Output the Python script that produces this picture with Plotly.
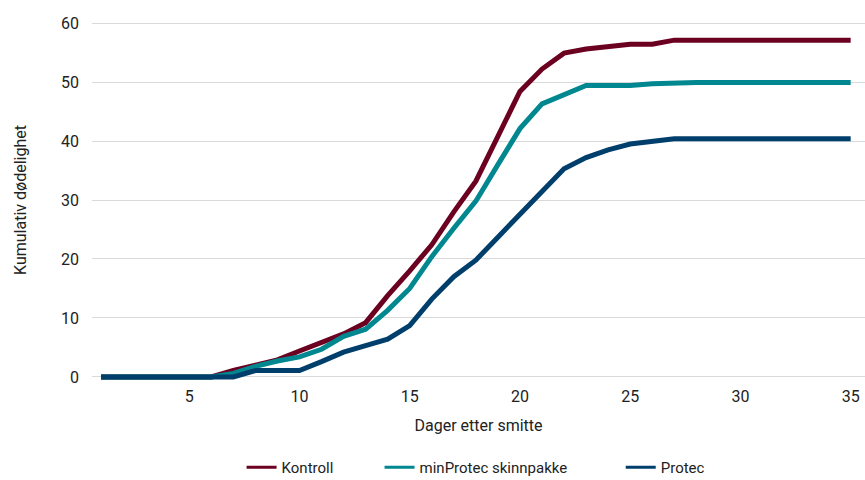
import plotly.graph_objects as go

days = list(range(1, 36))

kontroll = [0, 0, 0, 0, 0, 0, 1.1, 2.0, 2.9, 4.4, 5.9, 7.3, 9.2, 13.8, 18.0,
            22.4, 28.0, 33.2, 40.8, 48.4, 52.2, 54.9, 55.6, 56.1, 56.4, 56.4, 57.1,
            57.1, 57.1, 57.1, 57.1, 57.1, 57.1, 57.1, 57.1]
minprotec = [0, 0, 0, 0, 0, 0, 0.6, 1.8, 2.7, 3.4, 4.7, 6.9, 8.1, 11.3, 15.0,
             20.4, 25.2, 29.8, 36.0, 42.1, 46.3, 47.8, 49.4, 49.4, 49.4, 49.7, 49.9,
             49.9, 49.9, 49.9, 49.9, 49.9, 49.9, 49.9, 49.9]
protec = [0, 0, 0, 0, 0, 0, 0, 1.1, 1.1, 1.1, 2.6, 4.2, 5.3, 6.4, 8.7,
          13.2, 17.0, 19.8, 23.7, 27.5, 31.4, 35.3, 37.2, 38.5, 39.5, 40.0, 40.4,
          40.4, 40.4, 40.4, 40.4, 40.4, 40.4, 40.4, 40.4]

series = [
    ("Kontroll", kontroll, "#6b0021"),
    ("minProtec skinnpakke", minprotec, "#00878f"),
    ("Protec", protec, "#003f6b"),
]

FONT = "Roboto, sans-serif"
TXT = "#222222"

# left edge of each legend entry, in paper fraction of the plot width
legend_x = [0.1935, 0.372, 0.684]
legend_names = ["legend", "legend2", "legend3"]

fig = go.Figure()
for name, vals, color in series:
    fig.add_trace(go.Scatter(x=days, y=vals, mode="lines", name=name,
                             line=dict(color=color, width=5),
                             showlegend=False, hoverinfo="x+y+name"))
for (name, vals, color), lg in zip(series, legend_names):
    fig.add_trace(go.Scatter(x=[None], y=[None], mode="lines", name=name,
                             line=dict(color=color, width=3), legend=lg,
                             showlegend=True, hoverinfo="skip"))

legend_common = dict(orientation="h", y=-0.2676, yanchor="bottom",
                     xanchor="left", bgcolor="rgba(0,0,0,0)",
                     font=dict(family=FONT, size=15, color=TXT))

fig.update_layout(
    width=865, height=480,
    margin=dict(l=92, r=0, t=15, b=95, autoexpand=False),
    paper_bgcolor="white", plot_bgcolor="white",
    font=dict(family=FONT, size=16, color=TXT),
    showlegend=True,
    legend=dict(x=legend_x[0], **legend_common),
    legend2=dict(x=legend_x[1], **legend_common),
    legend3=dict(x=legend_x[2], **legend_common),
    xaxis=dict(range=[0.59, 35.65], tickvals=[5, 10, 15, 20, 25, 30, 35],
               showgrid=False, zeroline=False, showline=False, ticks="",
               tickfont=dict(size=16, color=TXT),
               title=dict(text="Dager etter smitte", standoff=14,
                          font=dict(size=16, color=TXT))),
    yaxis=dict(range=[-1.36, 61.36], tickvals=[0, 10, 20, 30, 40, 50, 60],
               showgrid=True, gridcolor="#d9d9d9", gridwidth=1,
               zeroline=False, showline=False, ticks="",
               ticklabelstandoff=12,
               tickfont=dict(size=16, color=TXT),
               title=dict(text="Kumulativ dødelighet", standoff=30,
                          font=dict(size=16, color=TXT))),
)

fig.write_html("out.html")
